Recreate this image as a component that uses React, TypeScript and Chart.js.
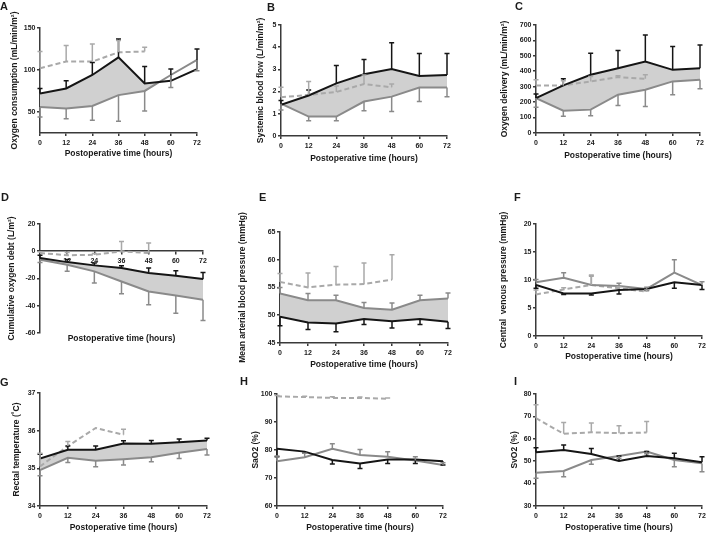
import React, { useEffect, useRef } from "react";
import { Chart, registerables } from "chart.js";

Chart.register(...registerables);

// ---------- data ----------
const hours = [0, 12, 24, 36, 48, 60, 72];
const dashHours = [0, 12, 24, 36, 48];
const dashHoursG = [0, 12, 24, 36];

// A: Oxygen consumption
const aBlack = [72, 78, 94, 115, 84, 87, 101];
const aBlackErr = [6, 9, 15, 22, 20, 14, 24];
const aGray = [56, 54, 57, 70, 75, 94, 112];
const aGrayErr = [12, 12, 17, 31, 24, 15, 13];
const aDash = [102, 110, 110, 121, 122];
const aDashErr = [20, 19, 21, 14, 5];
const aTicks = [50, 100, 150];

// B: Systemic blood flow
const bBlack = [1.4, 1.82, 2.37, 2.78, 3.02, 2.7, 2.75];
const bBlackErr = [0.2, 0.25, 0.8, 0.67, 1.18, 1.02, 0.97];
const bGray = [1.45, 0.87, 0.87, 1.55, 1.77, 2.18, 2.18];
const bGrayErr = [0.28, 0.19, 0.19, 0.42, 0.67, 0.63, 0.41];
const bDash = [1.74, 1.85, 1.98, 2.34, 2.19];
const bDashErr = [0.45, 0.6, 0.27, 0.41, 0.15];
const bTicks = [0, 1, 2, 3, 4, 5];

// C: Oxygen delivery
const cBlack = [226, 308, 377, 420, 463, 409, 420];
const cBlackErr = [26, 43, 140, 114, 172, 151, 151];
const cGray = [226, 144, 151, 248, 280, 334, 345];
const cGrayErr = [60, 36, 39, 71, 108, 86, 59];
const cDash = [308, 308, 334, 362, 351];
const cDashErr = [37, 30, 32, 8, 26];
const cTicks = [0, 100, 200, 300, 400, 500, 600, 700];

// D: Cumulative oxygen debt
const dBlack = [-5, -8, -10.4, -12.4, -16, -18, -20.5];
const dBlackErr = [2, 2, 1.7, 1.7, 3.6, 3.6, 4.9];
const dGray = [-6.3, -10, -14.8, -22.2, -29.6, -32.5, -35.7];
const dGrayErr = [2, 4.8, 8.6, 9.1, 9.8, 13, 15.2];
const dDash = [-1.3, -3, -2.6, -0.1, -1.3];
const dDashErr = [1, 2, 1, 7.3, 7.3];
const dTicks = [-60, -40, -20, 0, 20];

// E: Mean arterial blood pressure
const eBlack = [49.7, 48.7, 48.5, 49.3, 48.9, 49.3, 48.8];
const eBlackErr = [1.6, 1.3, 1.5, 1.0, 1.2, 1.0, 1.2];
const eGray = [53.9, 52.7, 52.7, 51.3, 51.0, 52.7, 53.0];
const eGrayErr = [1.1, 1.2, 0.9, 1.0, 1.2, 0.9, 1.0];
const eDash = [56.0, 55.0, 55.5, 55.6, 56.4];
const eDashErr = [1.5, 2.6, 3.3, 3.8, 4.5];
const eTicks = [45, 50, 55, 60, 65];

// F: Central venous pressure
const fBlack = [9.1, 7.6, 7.6, 8.2, 8.4, 9.6, 9.1];
const fBlackErr = [0.6, 0.2, 0.3, 0.7, 0.3, 1.1, 0.8];
const fGray = [9.6, 10.4, 9.1, 8.9, 8.4, 11.3, 9.1];
const fGrayErr = [0.5, 0.9, 1.6, 0.5, 0.3, 2.3, 0.6];
const fDash = [7.4, 8.3, 9.1, 8.5, 7.9];
const fDashErr = [0.8, 0.3, 1.8, 0.3, 0.3];
const fTicks = [0, 5, 10, 15, 20];

// G: Rectal temperature
const gBlack = [35.26, 35.49, 35.49, 35.66, 35.65, 35.69, 35.74];
const gBlackErr = [0.11, 0.1, 0.1, 0.07, 0.09, 0.09, 0.06];
const gGray = [34.95, 35.28, 35.2, 35.24, 35.29, 35.41, 35.51];
const gGrayErr = [0.15, 0.13, 0.16, 0.15, 0.12, 0.15, 0.16];
const gDash = [35.05, 35.59, 36.07, 35.89];
const gDashErr = [0.35, 0.12, 0, 0.15];
const gTicks = [34, 35, 36, 37];

// H: SaO2
const hBlack = [80.4, 79.4, 76.4, 75.2, 76.6, 76.6, 76.0];
const hBlackErr = [2.8, 0.5, 1.4, 1.8, 1.4, 1.4, 1.4];
const hGray = [76.0, 77.4, 80.4, 78.2, 77.6, 76.2, 74.6];
const hGrayErr = [1.8, 1.4, 1.8, 2.0, 1.8, 1.4, 0.8];
const hDash = [99.2, 98.9, 98.6, 98.6, 98.3];
const hDashErr = [0.3, 0.3, 0.4, 0.3, 0.3];
const hTicks = [60, 70, 80, 90, 100];

// I: SvO2
const iBlack = [54.0, 55.0, 53.2, 50.1, 52.3, 51.3, 49.5];
const iBlackErr = [2.0, 2.2, 2.5, 2.2, 2.0, 2.2, 2.5];
const iGray = [44.8, 45.6, 50.5, 52.3, 54.3, 50.5, 49.0];
const iGrayErr = [2.5, 2.6, 1.9, 1.0, 1.0, 3.0, 3.7];
const iDash = [69.2, 62.2, 62.9, 62.5, 62.8];
const iDashErr = [6, 5.1, 4.1, 3.3, 4.9];
const iTicks = [30, 40, 50, 60, 70, 80];

const xTitle = "Postoperative time (hours)";

// ---------- styles ----------
const FONT = '"Liberation Sans", Arial, Helvetica, sans-serif';
const BLACK = "#151515";
const GRAY = "#8a8a8a";
const LIGHT = "#a9a9a9";
const FILL = "#d0d0d0";
const AXIS = "#3a3a3a";
const TEXT = "#1a1a1a";
const TICK_SIZE = 7;
const TITLE_SIZE = 8.5;
const LH = TITLE_SIZE * 1.2;
const TOP_ROOM = 34;
const PAD_RIGHT = 8;

type Panel = {
  letter: string; letterX: number; letterY: number;
  yTitle: string; canvasLeft: number; axisX: number; axisRight: number;
  axisTop: number; axisBottom: number; yMin: number; yMax: number; yTicks: number[];
  yTitleX: number; xTitleY: number;
  black: number[]; blackErr: number[]; blackDir: number;
  gray: number[]; grayErr: number[]; grayDir: number;
  dash: number[]; dashX: number[]; dashErr: number[]; dashDir: number;
  fill: "above" | "both" | "none"; zeroAxis?: boolean;
};

const panels: Panel[] = [
  { letter: "A", letterX: 0, letterY: 0.5, yTitle: "Oxygen consumption (mL/min/m²)", canvasLeft: 0, axisX: 40, axisRight: 197, axisTop: 28, axisBottom: 133, yMin: 25, yMax: 150, yTicks: aTicks, yTitleX: 15, xTitleY: 154,
    black: aBlack, blackErr: aBlackErr, blackDir: 1, gray: aGray, grayErr: aGrayErr, grayDir: -1, dash: aDash, dashX: dashHours, dashErr: aDashErr, dashDir: 1, fill: "above" },
  { letter: "B", letterX: 267, letterY: 1.5, yTitle: "Systemic blood flow (L/min/m²)", canvasLeft: 236, axisX: 281, axisRight: 447, axisTop: 25, axisBottom: 136, yMin: 0, yMax: 5, yTicks: bTicks, yTitleX: 261, xTitleY: 159,
    black: bBlack, blackErr: bBlackErr, blackDir: 1, gray: bGray, grayErr: bGrayErr, grayDir: -1, dash: bDash, dashX: dashHours, dashErr: bDashErr, dashDir: 1, fill: "both" },
  { letter: "C", letterX: 515, letterY: 0.5, yTitle: "Oxygen delivery (mL/min/m²)", canvasLeft: 472, axisX: 536, axisRight: 700, axisTop: 25, axisBottom: 133, yMin: 0, yMax: 700, yTicks: cTicks, yTitleX: 505, xTitleY: 156,
    black: cBlack, blackErr: cBlackErr, blackDir: 1, gray: cGray, grayErr: cGrayErr, grayDir: -1, dash: cDash, dashX: dashHours, dashErr: cDashErr, dashDir: 1, fill: "both" },
  { letter: "D", letterX: 1, letterY: 191.5, yTitle: "Cumulative oxygen debt (L/m²)", canvasLeft: 0, axisX: 40, axisRight: 203, axisTop: 224, axisBottom: 333, yMin: -60, yMax: 20, yTicks: dTicks, yTitleX: 12, xTitleY: 339,
    black: dBlack, blackErr: dBlackErr, blackDir: 1, gray: dGray, grayErr: dGrayErr, grayDir: -1, dash: dDash, dashX: dashHours, dashErr: dDashErr, dashDir: 1, fill: "both", zeroAxis: true },
  { letter: "E", letterX: 259, letterY: 191.5, yTitle: "Mean arterial blood pressure (mmHg)", canvasLeft: 236, axisX: 280, axisRight: 448, axisTop: 232, axisBottom: 343, yMin: 45, yMax: 65, yTicks: eTicks, yTitleX: 243, xTitleY: 365,
    black: eBlack, blackErr: eBlackErr, blackDir: -1, gray: eGray, grayErr: eGrayErr, grayDir: 1, dash: eDash, dashX: dashHours, dashErr: eDashErr, dashDir: 1, fill: "both" },
  { letter: "F", letterX: 514, letterY: 191.5, yTitle: "Central  venous pressure (mmHg)", canvasLeft: 472, axisX: 536, axisRight: 702, axisTop: 224, axisBottom: 336, yMin: 0, yMax: 20, yTicks: fTicks, yTitleX: 504, xTitleY: 357,
    black: fBlack, blackErr: fBlackErr, blackDir: -1, gray: fGray, grayErr: fGrayErr, grayDir: 1, dash: fDash, dashX: dashHours, dashErr: fDashErr, dashDir: 1, fill: "none" },
  { letter: "G", letterX: 0, letterY: 376.5, yTitle: "Rectal temperature (˚C)", canvasLeft: 0, axisX: 40, axisRight: 207, axisTop: 393, axisBottom: 506, yMin: 34, yMax: 37, yTicks: gTicks, yTitleX: 17, xTitleY: 528,
    black: gBlack, blackErr: gBlackErr, blackDir: 1, gray: gGray, grayErr: gGrayErr, grayDir: -1, dash: gDash, dashX: dashHoursG, dashErr: gDashErr, dashDir: 1, fill: "both" },
  { letter: "H", letterX: 240, letterY: 375.5, yTitle: "SaO2 (%)", canvasLeft: 236, axisX: 277, axisRight: 443, axisTop: 394, axisBottom: 506, yMin: 60, yMax: 100, yTicks: hTicks, yTitleX: 256, xTitleY: 528,
    black: hBlack, blackErr: hBlackErr, blackDir: -1, gray: hGray, grayErr: hGrayErr, grayDir: 1, dash: hDash, dashX: dashHours, dashErr: hDashErr, dashDir: 1, fill: "none" },
  { letter: "I", letterX: 514, letterY: 375.5, yTitle: "SvO2 (%)", canvasLeft: 472, axisX: 536, axisRight: 702, axisTop: 394, axisBottom: 506, yMin: 30, yMax: 80, yTicks: iTicks, yTitleX: 515, xTitleY: 528,
    black: iBlack, blackErr: iBlackErr, blackDir: 1, gray: iGray, grayErr: iGrayErr, grayDir: -1, dash: iDash, dashX: dashHours, dashErr: iDashErr, dashDir: 1, fill: "none" },
];

// ---------- error bar plugin ----------
const errorBars = {
  id: "errorBars",
  afterDatasetsDraw(chart: any) {
    const ctx = chart.ctx;
    const xs = chart.scales.x;
    const ys = chart.scales.y;
    chart.data.datasets.forEach((ds: any) => {
      if (!ds.errs) return;
      ctx.save();
      ctx.strokeStyle = ds.borderColor;
      ctx.lineWidth = 1.5;
      ctx.setLineDash([]);
      ds.data.forEach((pt: any, j: number) => {
        const e = ds.errs[j];
        if (!e) return;
        const x = xs.getPixelForValue(pt.x);
        const y0 = ys.getPixelForValue(pt.y);
        const y1 = ys.getPixelForValue(pt.y + ds.errDir * e);
        ctx.beginPath();
        ctx.moveTo(x, y0);
        ctx.lineTo(x, y1);
        ctx.moveTo(x - 2.5, y1);
        ctx.lineTo(x + 2.5, y1);
        ctx.stroke();
      });
      ctx.restore();
    });
  },
};

function geometry(p: Panel) {
  const top = Math.max(0, p.axisTop - TOP_ROOM);
  const padTop = p.axisTop - top;
  const width = p.axisRight + PAD_RIGHT - p.canvasLeft;
  const yW = p.axisX - p.canvasLeft;
  const xH = p.xTitleY - p.axisBottom + LH / 2;
  const titleBoxTop = p.xTitleY - p.axisBottom - LH / 2;
  const height = p.zeroAxis ? p.axisBottom - top + titleBoxTop + LH + 2 : p.axisBottom - top + xH;
  return { top, padTop, width, height, yW, xH, titleBoxTop };
}

function PanelChart({ p }: { p: Panel }) {
  const ref = useRef<HTMLCanvasElement>(null);
  const g = geometry(p);
  useEffect(() => {
    if (!ref.current) return;
    const tickFont = { family: FONT, size: TICK_SIZE, weight: "bold" as const };
    const titleFont = { family: FONT, size: TITLE_SIZE, weight: "bold" as const, lineHeight: 1.2 };
    const fillOpt =
      p.fill === "none"
        ? false
        : { target: 1, above: FILL, below: p.fill === "above" ? "rgba(0,0,0,0)" : FILL };
    const line = { pointRadius: 0, pointHoverRadius: 0, borderWidth: 2, tension: 0 };
    const datasets: any[] = [
      { ...line, label: "black", data: hours.map((h, i) => ({ x: h, y: p.black[i] })), borderColor: BLACK, fill: fillOpt, errs: p.blackErr, errDir: p.blackDir },
      { ...line, label: "gray", data: hours.map((h, i) => ({ x: h, y: p.gray[i] })), borderColor: GRAY, fill: false, errs: p.grayErr, errDir: p.grayDir },
      { ...line, label: "dash", data: p.dashX.map((h, i) => ({ x: h, y: p.dash[i] })), borderColor: LIGHT, borderDash: [5, 3], fill: false, errs: p.dashErr, errDir: p.dashDir },
    ];
    const grid = { display: true, drawOnChartArea: false, drawTicks: true, tickLength: 3, color: AXIS, lineWidth: 1.5 };
    const border = { display: true, color: AXIS, width: 1.5 };
    const chart = new Chart(ref.current, {
      type: "line",
      data: { datasets },
      plugins: [errorBars],
      options: {
        animation: false,
        responsive: false,
        devicePixelRatio: 1,
        layout: { padding: { top: g.padTop, right: PAD_RIGHT, left: 0, bottom: 0 } },
        plugins: {
          legend: { display: false },
          tooltip: { enabled: false },
          filler: { drawTime: "beforeDatasetsDraw" },
          title: p.zeroAxis
            ? { display: true, text: xTitle, position: "bottom", fullSize: false, font: titleFont, color: TEXT, padding: { top: g.titleBoxTop, bottom: 2 } }
            : { display: false },
        },
        scales: {
          x: {
            type: "linear",
            min: 0,
            max: 72,
            position: p.zeroAxis ? { y: 0 } : "bottom",
            afterBuildTicks: (s: any) => { s.ticks = hours.map((v) => ({ value: v })); },
            ticks: {
              font: tickFont, color: TEXT, padding: 3, maxRotation: 0, autoSkip: false,
              callback: (v: any) => (p.zeroAxis && v === 0 ? "" : String(v)),
            },
            grid,
            border,
            title: p.zeroAxis
              ? { display: false }
              : { display: true, text: xTitle, font: titleFont, color: TEXT, padding: { top: 0, bottom: 0 } },
            afterFit: (s: any) => { if (!p.zeroAxis) s.height = g.xH; },
          } as any,
          y: {
            type: "linear",
            min: p.yMin,
            max: p.yMax,
            afterBuildTicks: (s: any) => { s.ticks = p.yTicks.map((v) => ({ value: v })); },
            ticks: { font: tickFont, color: TEXT, padding: 1.5, autoSkip: false },
            grid,
            border,
            title: { display: true, text: p.yTitle, font: titleFont, color: TEXT, padding: { top: p.yTitleX - p.canvasLeft - LH / 2, bottom: 0 } },
            afterFit: (s: any) => { s.width = g.yW; },
          } as any,
        },
      } as any,
    });
    return () => chart.destroy();
  }, []);
  return (
    <canvas
      ref={ref}
      width={g.width}
      height={g.height}
      style={{ position: "absolute", left: p.canvasLeft, top: g.top, width: g.width, height: g.height }}
    />
  );
}

export default function App() {
  return (
    <div style={{ position: "fixed", left: 0, top: 0, width: 709, height: 534, overflow: "hidden", background: "#ffffff" }}>
      {panels.map((p) => (
        <PanelChart key={p.letter} p={p} />
      ))}
      {panels.map((p) => (
        <div
          key={"l" + p.letter}
          style={{ position: "absolute", left: p.letterX, top: p.letterY, fontFamily: FONT, fontWeight: "bold", fontSize: 11, lineHeight: "11px", color: TEXT }}
        >
          {p.letter}
        </div>
      ))}
    </div>
  );
}
